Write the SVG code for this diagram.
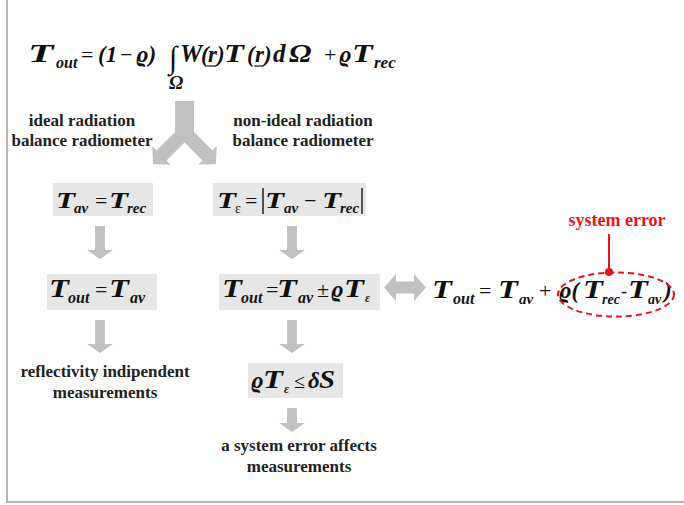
<svg xmlns="http://www.w3.org/2000/svg" width="684" height="505" viewBox="0 0 684 505">
<style>
.m{font-family:"Liberation Serif","DejaVu Serif",serif;font-weight:bold;font-style:italic;fill:#111}
.op{font-family:"Liberation Serif","DejaVu Serif",serif;font-weight:normal;font-style:normal;fill:#111}
.lbl{font-family:"Liberation Serif","DejaVu Serif",serif;font-weight:bold;font-size:17px;fill:#222;text-anchor:middle}
.box{fill:#e6e6e6}
.arr{fill:#c0c0c0}
.red{fill:#e8141c}
</style>
<rect width="684" height="505" fill="#fff"/>
<g id="frame" fill="none" stroke="#b4b4b4" stroke-width="2">
<polyline points="7,0 7,502 684,502"/>
</g>

<g id="main-equation">
<text class="m" font-size="26" transform="translate(28 62) scale(1.6 1)">T</text>
<text class="m" x="56" y="68" font-size="16">out</text>
<text class="op" x="81" y="62" font-size="22">=</text>
<text class="m" x="98" y="62" font-size="23">(1</text>
<text class="op" x="120" y="62" font-size="22">−</text>
<text class="m" x="136" y="62" font-size="23">ϱ)</text>
<text class="op" font-size="30" transform="translate(169 68) scale(1 1.05)">∫</text>
<text class="m" x="169" y="89" font-size="19">Ω</text>
<text class="m" x="180" y="62" font-size="25">W</text>
<text class="m" x="201" y="62" font-size="23">(</text>
<text class="m" x="208" y="62" font-size="23">r</text>
<text class="m" x="217" y="62" font-size="23">)</text>
<text class="m" font-size="25" transform="translate(224 62) scale(1.3 1)">T</text>
<text class="m" x="247" y="62" font-size="23">(</text>
<text class="m" x="255" y="62" font-size="23">r</text>
<text class="m" x="264" y="62" font-size="23">)</text>
<text class="m" x="273" y="62" font-size="25">d</text>
<text class="m" font-size="25" transform="translate(289 62) scale(1.2 1)">Ω</text>
<text class="op" x="324" y="62" font-size="22">+</text>
<text class="m" x="339" y="62" font-size="23">ϱ</text>
<text class="m" font-size="26" transform="translate(352 62) scale(1.3 1)">T</text>
<text class="m" x="374" y="68" font-size="17">rec</text>
<g stroke="#111" stroke-width="1.2">
<line x1="207" y1="66" x2="216" y2="66"/>
<line x1="254" y1="66" x2="263" y2="66"/>
</g>
</g>

<g id="label-ideal">
<text class="lbl" x="82" y="126">ideal radiation</text>
<text class="lbl" x="82" y="146">balance radiometer</text>
</g>
<g id="label-nonideal">
<text class="lbl" x="303" y="126">non-ideal radiation</text>
<text class="lbl" x="303" y="146">balance radiometer</text>
</g>

<g id="box-tav-trec">
<rect class="box" x="53" y="183" width="100" height="33"/>
<text class="m" font-size="24" transform="translate(56 208) scale(1.3 1)">T</text>
<text class="m" x="74" y="213" font-size="15">av</text>
<text class="op" x="95" y="208" font-size="22">=</text>
<text class="m" font-size="24" transform="translate(109 208) scale(1.3 1)">T</text>
<text class="m" x="127" y="213" font-size="15">rec</text>
</g>

<g id="box-teps">
<rect class="box" x="213" y="183" width="153" height="33"/>
<text class="m" font-size="24" transform="translate(217 208) scale(1.3 1)">T</text>
<text class="op" x="235" y="213" font-size="14" font-weight="bold">ε</text>
<text class="op" x="245" y="208" font-size="22">=</text>
<line x1="263" y1="188" x2="263" y2="214" stroke="#111" stroke-width="1.4"/>
<text class="m" font-size="24" transform="translate(265 208) scale(1.3 1)">T</text>
<text class="m" x="284" y="213" font-size="15">av</text>
<text class="op" x="304" y="208" font-size="22">−</text>
<text class="m" font-size="24" transform="translate(322 208) scale(1.3 1)">T</text>
<text class="m" x="340" y="213" font-size="15">rec</text>
<line x1="362" y1="188" x2="362" y2="214" stroke="#111" stroke-width="1.4"/>
</g>

<g id="box-tout-tav">
<rect class="box" x="47" y="274" width="110" height="36"/>
<text class="m" font-size="25" transform="translate(49 297) scale(1.3 1)">T</text>
<text class="m" x="68" y="303" font-size="16">out</text>
<text class="op" x="95" y="297" font-size="22">=</text>
<text class="m" font-size="25" transform="translate(109 297) scale(1.3 1)">T</text>
<text class="m" x="130" y="303" font-size="16">av</text>
</g>

<g id="box-tout-err">
<rect class="box" x="219" y="274" width="161" height="36"/>
<text class="m" font-size="25" transform="translate(222 297) scale(1.3 1)">T</text>
<text class="m" x="241" y="303" font-size="16">out</text>
<text class="op" x="266" y="297" font-size="22" font-weight="bold">=</text>
<text class="m" font-size="25" transform="translate(277 297) scale(1.3 1)">T</text>
<text class="m" x="298" y="303" font-size="16">av</text>
<text class="op" x="317" y="297" font-size="22">±</text>
<text class="m" x="331" y="297" font-size="23">ϱ</text>
<text class="m" font-size="25" transform="translate(344 297) scale(1.3 1)">T</text>
<text class="m" x="365" y="302" font-size="12">ε</text>
</g>

<g id="box-bound">
<rect class="box" x="248" y="363" width="95" height="35"/>
<text class="m" x="251" y="388" font-size="23">ϱ</text>
<text class="m" font-size="25" transform="translate(263 388) scale(1.3 1)">T</text>
<text class="m" x="284" y="393" font-size="12">ε</text>
<text class="op" x="294" y="388" font-size="20">≤</text>
<text class="m" x="308" y="388" font-size="23">δ</text>
<text class="m" font-size="25" transform="translate(319 388) scale(1.15 1)">S</text>
</g>

<g id="label-reflectivity">
<text class="lbl" x="105" y="377">reflectivity indipendent</text>
<text class="lbl" x="105" y="398">measurements</text>
</g>
<g id="label-system">
<text class="lbl" x="299" y="451">a system error affects</text>
<text class="lbl" x="299" y="472">measurements</text>
</g>

<g id="right-equation">
<text class="m" font-size="25" transform="translate(432 298) scale(1.3 1)">T</text>
<text class="m" x="453" y="304" font-size="16">out</text>
<text class="op" x="479" y="298" font-size="22">=</text>
<text class="m" font-size="25" transform="translate(498 298) scale(1.3 1)">T</text>
<text class="m" x="519" y="304" font-size="15">av</text>
<text class="op" x="539" y="298" font-size="22">+</text>
<text class="m" x="559" y="298" font-size="23">ϱ(</text>
<text class="m" font-size="25" transform="translate(583 298) scale(1.3 1)">T</text>
<text class="m" x="602" y="304" font-size="14">rec</text>
<text class="op" x="621" y="297" font-size="18" font-weight="bold">-</text>
<text class="m" font-size="25" transform="translate(628 298) scale(1.3 1)">T</text>
<text class="m" x="648" y="304" font-size="14">av</text>
<text class="m" x="664" y="298" font-size="23">)</text>
</g>

<g id="system-error">
<text x="617" y="226" font-family="Liberation Serif, DejaVu Serif, serif" font-weight="bold" font-size="18" text-anchor="middle" class="red">system error</text>
<line x1="609" y1="234" x2="609" y2="272" stroke="#e8141c" stroke-width="2"/>
<circle cx="609" cy="272" r="4" class="red"/>
<ellipse cx="616" cy="294.5" rx="58" ry="22" fill="none" stroke="#e8141c" stroke-width="2" stroke-dasharray="6 4"/>
</g>

<g id="connectors">
<polygon class="arr" points="175,101 194,101 194,132 212.5,150.5 216.7,146.3 216,164 198.3,164.7 202.5,160.5 184.5,142.5 166.5,160.5 170.7,164.7 153,164 152.3,146.3 156.5,150.5 175,132"/>
<polygon class="arr" points="95,226 105,226 105,250 113,250 100,259 87,250 95,250"/>
<polygon class="arr" points="287,226 297,226 297,250 305,250 292,259 279,250 287,250"/>
<polygon class="arr" points="95,320 105,320 105,344 113,344 100,353 87,344 95,344"/>
<polygon class="arr" points="287,320 297,320 297,344 305,344 292,353 279,344 287,344"/>
<polygon class="arr" points="287,408 297,408 297,423 305,423 292,432 279,423 287,423"/>
<polygon class="arr" points="384,287.5 396,274 396,281.5 414,281.5 414,274 426,287.5 414,301 414,293.5 396,293.5 396,301"/>
</g>
</svg>
